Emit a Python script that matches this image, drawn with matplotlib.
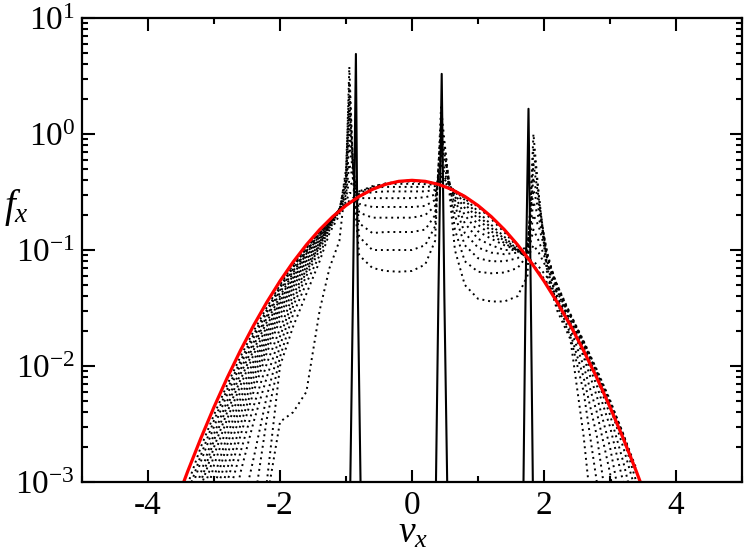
import matplotlib
matplotlib.use("Agg")
import matplotlib.pyplot as plt
from matplotlib.ticker import MultipleLocator, LogLocator, NullFormatter, FixedLocator

plt.rcParams['font.family'] = ['Liberation Serif', 'DejaVu Serif']
plt.rcParams['mathtext.fontset'] = 'custom'
plt.rcParams['mathtext.rm'] = 'Liberation Serif'
plt.rcParams['mathtext.it'] = 'Liberation Serif:italic'
plt.rcParams['axes.unicode_minus'] = False

# equilibrium (red) curve
red_x = [-3.6, -3.4, -3.2, -3.0, -2.8, -2.6, -2.4, -2.2, -2.0, -1.8, -1.6, -1.4, -1.2, -1.0,
         -0.8, -0.6, -0.4, -0.2, 0.0, 0.2, 0.4, 0.6, 0.8, 1.0, 1.2, 1.4, 1.6, 1.8, 2.0,
         2.2, 2.4, 2.6, 2.8, 3.0, 3.2, 3.4, 3.6]
red_y = [0.000612, 0.00123, 0.00238, 0.00443, 0.00792, 0.01358, 0.02239, 0.03547, 0.05399,
         0.07895, 0.1109, 0.1497, 0.1942, 0.2420, 0.2897, 0.3332, 0.3683, 0.3910, 0.3989,
         0.3910, 0.3683, 0.3332, 0.2897, 0.2420, 0.1942, 0.1497, 0.1109, 0.07895, 0.05399,
         0.03547, 0.02239, 0.01358, 0.00792, 0.00443, 0.00238, 0.00123, 0.000612]

# initial distribution (solid black): three narrow spikes
init_x = [-5.0, -0.96, -0.895, -0.85, -0.82, -0.755, 0.34, 0.40, 0.45, 0.49, 0.56,
          1.67, 1.72, 1.765, 1.80, 1.85, 5.0]
init_y = [1e-4, 1e-4, 0.04, 4.9, 0.04, 1e-4, 1e-4, 0.04, 3.3, 0.04, 1e-4,
          1e-4, 0.04, 1.65, 0.04, 1e-4, 1e-4]

# intermediate snapshots (dotted), shared velocity grid
grid_x = [-3.4, -3.2, -3.0, -2.8, -2.6, -2.4, -2.2, -2.0, -1.8, -1.6, -1.4, -1.25, -1.1,
          -1.0, -0.95, -0.88, -0.8, -0.6, -0.4, -0.2, 0.0, 0.2, 0.35, 0.44, 0.52, 0.65,
          0.8, 1.0, 1.2, 1.4, 1.6, 1.75, 1.84, 1.92, 2.05, 2.2, 2.4, 2.6, 2.8, 3.0, 3.2, 3.4]

snap1 = [1e-5, 1e-5, 1e-5, 1e-5, 1e-5, 1e-5, 0.0007, 0.0033, 0.004, 0.006, 0.03, 0.07, 0.12,
         0.4, 3.8, 0.3, 0.09, 0.07, 0.066, 0.065, 0.066, 0.075, 0.12, 1.7, 0.6, 0.1,
         0.05, 0.038, 0.036, 0.036, 0.04, 0.06, 1.0, 0.3, 0.06, 0.03, 0.017, 0.0025, 0.0002,
         1e-5, 1e-5, 1e-5]
snap2 = [1e-5, 1e-5, 1e-5, 1e-5, 1e-5, 1e-5, 0.001, 0.01, 0.022, 0.042, 0.08, 0.14, 0.2,
         0.5, 2.8, 0.35, 0.13, 0.1, 0.1, 0.1, 0.1, 0.11, 0.16, 1.3, 0.6, 0.15,
         0.08, 0.065, 0.063, 0.064, 0.07, 0.09, 0.75, 0.3, 0.07, 0.033, 0.018, 0.006, 0.001,
         0.0001, 1e-5, 1e-5]
snap3 = [1e-5, 1e-5, 1e-5, 1e-5, 1e-5, 0.0006, 0.0035, 0.012, 0.028, 0.052, 0.09, 0.15, 0.22,
         0.45, 2.0, 0.4, 0.17, 0.14, 0.143, 0.143, 0.143, 0.15, 0.2, 1.0, 0.55, 0.2,
         0.11, 0.085, 0.08, 0.08, 0.085, 0.1, 0.55, 0.28, 0.08, 0.035, 0.019, 0.008, 0.0025,
         0.0004, 1e-5, 1e-5]
snap4 = [1e-5, 1e-5, 1e-5, 1e-5, 0.0005, 0.0016, 0.0055, 0.015, 0.033, 0.06, 0.1, 0.155, 0.22,
         0.4, 1.5, 0.45, 0.21, 0.19, 0.19, 0.19, 0.19, 0.2, 0.24, 0.8, 0.5, 0.24,
         0.14, 0.105, 0.095, 0.092, 0.095, 0.105, 0.42, 0.25, 0.09, 0.04, 0.021, 0.01, 0.004,
         0.0012, 0.0002, 1e-5]
snap5 = [1e-5, 1e-5, 1e-5, 0.0003, 0.0012, 0.0033, 0.008, 0.018, 0.037, 0.065, 0.107, 0.16, 0.225,
         0.36, 1.1, 0.45, 0.25, 0.235, 0.235, 0.235, 0.235, 0.24, 0.27, 0.65, 0.45, 0.27,
         0.17, 0.125, 0.11, 0.1, 0.1, 0.105, 0.33, 0.22, 0.095, 0.045, 0.023, 0.012, 0.0055,
         0.002, 0.0005, 1e-5]
snap6 = [1e-5, 1e-5, 0.0003, 0.001, 0.0025, 0.006, 0.013, 0.025, 0.045, 0.072, 0.112, 0.165, 0.225,
         0.33, 0.8, 0.42, 0.28, 0.28, 0.28, 0.28, 0.28, 0.285, 0.3, 0.55, 0.42, 0.29,
         0.2, 0.145, 0.125, 0.11, 0.1, 0.1, 0.26, 0.19, 0.09, 0.048, 0.025, 0.013, 0.0068,
         0.003, 0.001, 0.0003]
snap7 = [1e-5, 0.0002, 0.0007, 0.0017, 0.0038, 0.008, 0.016, 0.03, 0.051, 0.08, 0.12, 0.17, 0.225,
         0.3, 0.55, 0.38, 0.3, 0.315, 0.32, 0.32, 0.32, 0.32, 0.33, 0.48, 0.4, 0.3,
         0.23, 0.165, 0.135, 0.115, 0.097, 0.092, 0.2, 0.16, 0.085, 0.05, 0.027, 0.015, 0.0078,
         0.0038, 0.0015, 0.0005]
snap8 = [1e-5, 0.0004, 0.0011, 0.0025, 0.0052, 0.01, 0.019, 0.034, 0.056, 0.087, 0.127, 0.172, 0.225,
         0.28, 0.4, 0.34, 0.32, 0.345, 0.35, 0.35, 0.35, 0.35, 0.355, 0.43, 0.39, 0.32,
         0.25, 0.185, 0.145, 0.12, 0.098, 0.088, 0.15, 0.12, 0.075, 0.05, 0.028, 0.016, 0.0088,
         0.0045, 0.002, 0.0008]
snap9 = [0.0002, 0.0007, 0.0017, 0.0035, 0.0068, 0.0125, 0.022, 0.038, 0.061, 0.093, 0.133, 0.175, 0.222,
         0.26, 0.31, 0.31, 0.32, 0.355, 0.37, 0.372, 0.372, 0.37, 0.365, 0.39, 0.37, 0.325,
         0.27, 0.2, 0.155, 0.125, 0.1, 0.085, 0.11, 0.095, 0.068, 0.047, 0.028, 0.0165, 0.0092,
         0.005, 0.0024, 0.001]
snap10 = [0.0004, 0.001, 0.0023, 0.0045, 0.0085, 0.015, 0.026, 0.043, 0.066, 0.098, 0.138, 0.178, 0.22,
          0.25, 0.265, 0.285, 0.305, 0.35, 0.375, 0.388, 0.39, 0.385, 0.372, 0.37, 0.355, 0.325,
          0.28, 0.215, 0.165, 0.13, 0.1, 0.083, 0.08, 0.072, 0.058, 0.043, 0.027, 0.0162, 0.0093,
          0.0051, 0.0026, 0.0012]
snap11 = [0.0007, 0.0015, 0.003, 0.0057, 0.0102, 0.0175, 0.029, 0.047, 0.071, 0.103, 0.143, 0.18, 0.218,
          0.243, 0.255, 0.272, 0.29, 0.333, 0.368, 0.39, 0.398, 0.39, 0.375, 0.362, 0.35, 0.324,
          0.29, 0.235, 0.185, 0.142, 0.106, 0.084, 0.074, 0.065, 0.052, 0.039, 0.025, 0.0152, 0.0088,
          0.0049, 0.0026, 0.0013]
snap12 = [0.00095, 0.002, 0.0038, 0.0069, 0.012, 0.02, 0.032, 0.05, 0.075, 0.107, 0.147, 0.181, 0.218,
          0.242, 0.254, 0.271, 0.29, 0.333, 0.368, 0.391, 0.399, 0.391, 0.375, 0.362, 0.349, 0.323,
          0.29, 0.242, 0.194, 0.15, 0.111, 0.087, 0.074, 0.064, 0.05, 0.037, 0.0235, 0.0143, 0.0083,
          0.0046, 0.0025, 0.00125]

snapshots = [snap1, snap2, snap3, snap4, snap5, snap6, snap7, snap8, snap9, snap10, snap11, snap12]

# further snapshots, only their left tails differ visibly
tail_x = [-3.4, -3.2, -3.0, -2.8, -2.6, -2.4, -2.2, -2.0, -1.8, -1.6, -1.4, -1.25, -1.1]
tail1 = [1e-5, 1e-5, 0.0002, 0.0007, 0.0018, 0.0045, 0.0105, 0.021, 0.041, 0.068, 0.11, 0.162, 0.225]
tail2 = [1e-5, 0.0001, 0.0005, 0.0013, 0.0031, 0.007, 0.0145, 0.0275, 0.048, 0.076, 0.116, 0.168, 0.225]
tail3 = [1e-5, 0.0003, 0.0009, 0.0021, 0.0045, 0.009, 0.0175, 0.032, 0.053, 0.083, 0.123, 0.171, 0.225]
tail4 = [0.0001, 0.0005, 0.0014, 0.003, 0.006, 0.011, 0.0205, 0.036, 0.058, 0.09, 0.13, 0.173, 0.223]
tail5 = [0.0003, 0.0009, 0.002, 0.004, 0.0076, 0.0137, 0.024, 0.04, 0.064, 0.096, 0.136, 0.177, 0.221]
tail6 = [0.0005, 0.0012, 0.0026, 0.005, 0.0093, 0.016, 0.027, 0.045, 0.069, 0.1, 0.14, 0.179, 0.219]
tail7 = [0.0008, 0.0017, 0.0034, 0.0063, 0.011, 0.0187, 0.0305, 0.0485, 0.073, 0.105, 0.145, 0.18, 0.218]

tails = [tail1, tail2, tail3, tail4, tail5, tail6, tail7]

fig = plt.figure(figsize=(7.47, 5.51), dpi=100)
ax = fig.add_axes([0.1098, 0.1252, 0.8835, 0.8421])

dots = (0, (1, 2))
for snap in snapshots:
    ax.plot(grid_x, snap, color='black', lw=1.4, linestyle=dots)
for tail in tails:
    ax.plot(tail_x, tail, color='black', lw=1.4, linestyle=dots)

ax.plot(init_x, init_y, color='black', lw=1.5)
ax.plot(red_x, red_y, color='red', lw=2.3)

ax.set_yscale('log')
ax.set_xlim(-5, 5)
ax.set_ylim(1e-3, 1e1)

ax.xaxis.set_major_locator(MultipleLocator(2))
ax.xaxis.set_minor_locator(MultipleLocator(1))
ax.yaxis.set_major_locator(FixedLocator([1e-3, 1e-2, 1e-1, 1e0, 1e1]))
ax.yaxis.set_minor_locator(LogLocator(base=10, subs=range(2, 10)))
ax.yaxis.set_minor_formatter(NullFormatter())
ax.set_yticklabels([r'$\mathregular{10^{-3}}$', r'$\mathregular{10^{-2}}$',
                    r'$\mathregular{10^{-1}}$', r'$\mathregular{10^{0}}$',
                    r'$\mathregular{10^{1}}$'])

ax.tick_params(which='both', direction='in', top=True, right=True, width=1.5,
               labelsize=24)
ax.tick_params(which='major', length=9)
ax.tick_params(axis='x', which='major', pad=6)
ax.tick_params(axis='y', which='major', pad=5)
ax.tick_params(which='minor', length=4.5)
for s in ax.spines.values():
    s.set_linewidth(1.6)

fig.text(0.022, 0.624, r'$f_x$', fontsize=28, ha='center', va='center')
fig.text(0.553, 0.016, r'$v_x$', fontsize=27, ha='center', va='baseline')

fig.savefig('out.png', dpi=100)
